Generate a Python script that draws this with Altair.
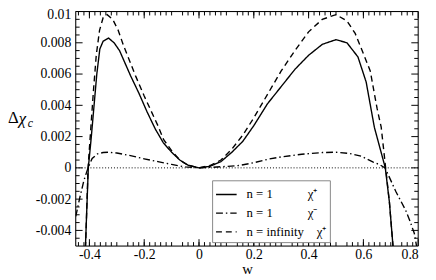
import altair as alt
import pandas as pd

# ---- data ----
w_solid = [-0.420, -0.414, -0.404, -0.393, -0.383, -0.373, -0.362, -0.350, -0.330, -0.310,
           -0.290, -0.270, -0.250, -0.220, -0.190, -0.160, -0.130, -0.100, -0.070, -0.040,
           0.000, 0.040, 0.080, 0.120, 0.160, 0.200, 0.250, 0.300, 0.350, 0.400,
           0.450, 0.500, 0.540, 0.580, 0.610, 0.640, 0.660, 0.680, 0.695, 0.708, 0.712]
v_solid = [-0.0068, -0.0048, 0.0, 0.0020, 0.0040, 0.0060, 0.0076, 0.0081, 0.0083, 0.0080,
           0.0075, 0.0067, 0.0059, 0.0048, 0.0036, 0.0025, 0.0016, 0.0010, 0.0005, 0.00017,
           0.0, 0.0001, 0.0004, 0.0010, 0.0017, 0.0027, 0.0041, 0.0052, 0.0063, 0.0072,
           0.0079, 0.0082, 0.0080, 0.0071, 0.0055, 0.0026, 0.0013, 0.0, -0.0022, -0.0050, -0.0062]

w_dash = [-0.420, -0.414, -0.405, -0.395, -0.385, -0.375, -0.363, -0.350, -0.335, -0.315,
          -0.295, -0.275, -0.250, -0.232, -0.200, -0.179, -0.150, -0.129, -0.100, -0.070,
          -0.040, 0.000, 0.040, 0.080, 0.120, 0.160, 0.200, 0.250, 0.300, 0.350,
          0.400, 0.450, 0.500, 0.540, 0.570, 0.600, 0.625, 0.650, 0.665, 0.680, 0.695, 0.708, 0.712]
v_dash = [-0.0070, -0.0050, 0.0, 0.0025, 0.0050, 0.0072, 0.0088, 0.0096, 0.0098, 0.0095,
          0.0088, 0.0078, 0.0067, 0.0059, 0.0046, 0.0038, 0.0027, 0.0018, 0.0011, 0.0005,
          0.00017, 0.0, 0.00015, 0.0005, 0.0012, 0.0021, 0.0032, 0.0047, 0.0062, 0.0075,
          0.0087, 0.0095, 0.0098, 0.0094, 0.0086, 0.0073, 0.0062, 0.0038, 0.0026, 0.0002, -0.0022, -0.0050, -0.0062]

w_dd = [-0.450, -0.446, -0.435, -0.420, -0.405, -0.390, -0.370, -0.350, -0.330, -0.300,
        -0.250, -0.200, -0.150, -0.100, -0.050, 0.000, 0.050, 0.100, 0.150, 0.200,
        0.254, 0.300, 0.375, 0.450, 0.500, 0.550, 0.593, 0.636, 0.660, 0.679,
        0.700, 0.718, 0.736, 0.754, 0.770, 0.786, 0.794, 0.800]
v_dd = [-0.0031, -0.0028, -0.0019, -0.0008, 0.0, 0.0006, 0.0009, 0.00098, 0.0010, 0.00095,
        0.00078, 0.00058, 0.00040, 0.00022, 0.00006, 0.0, 0.00004, 0.00009, 0.00016, 0.00033,
        0.00056, 0.00070, 0.00087, 0.00098, 0.0010, 0.00092, 0.00074, 0.00037, 0.0002, 0.0,
        -0.0008, -0.0015, -0.0021, -0.0027, -0.0034, -0.0042, -0.0050, -0.0055]

NB = "\u00a0"
labels = ["n = 1" + NB * 11 + "\u03c7\u207a",
          "n = 1" + NB * 11 + "\u03c7\u207b",
          "n = infinity" + NB * 4 + "\u03c7\u207a"]
dashes = [[1, 0], [7, 3, 1.5, 3], [6, 4]]

x_major = [-0.4, -0.2, 0.0, 0.2, 0.4, 0.6, 0.8]
y_major = [-0.004, -0.002, 0.0, 0.002, 0.004, 0.006, 0.008, 0.01]
x_minor = [round(-0.44 + 0.02 * i, 2) for i in range(62) if (i + 2) % 10 != 0]
y_minor = [round(-0.0045 + 0.0005 * i, 4) for i in range(29) if round((-0.0045 + 0.0005 * i) / 0.002, 4) % 1 != 0]

W, H = 349, 239
FONT = "Times New Roman"

rows = []
for lab, ws, vs in [(labels[0], w_solid, v_solid), (labels[1], w_dd, v_dd), (labels[2], w_dash, v_dash)]:
    for a, b in zip(ws, vs):
        rows.append({"w": a, "v": b, "series": lab})
df = pd.DataFrame(rows)

xs = alt.Scale(domain=[-0.45, 0.8], nice=False, zero=False)
ys = alt.Scale(domain=[-0.005, 0.01], nice=False, zero=False)

neg = "(datum.value < 0 ? '-' : '') + format(abs(datum.value), '')"
x_axis = alt.Axis(values=x_major, ticks=False, domain=False, grid=False, labelExpr=neg,
                  labelFont=FONT, labelFontSize=14, labelColor="black", labelPadding=2,
                  title="w", titleFont=FONT, titleFontSize=15, titleFontWeight="normal",
                  titleColor="black", titlePadding=0)
y_axis = alt.Axis(values=y_major, ticks=False, domain=False, grid=False, labelExpr=neg,
                  labelFont=FONT, labelFontSize=14, labelColor="black", labelPadding=5,
                  labelFlush=True, labelFlushOffset=4, title=None)

lines = alt.Chart(df).mark_line(color="black", strokeWidth=1.4, clip=True).encode(
    x=alt.X("w:Q", scale=xs, axis=x_axis),
    y=alt.Y("v:Q", scale=ys, axis=y_axis),
    strokeDash=alt.StrokeDash("series:N", scale=alt.Scale(domain=labels, range=dashes),
                              legend=alt.Legend(title=None, orient="none", legendX=139, legendY=172,
                                                symbolType="stroke", symbolSize=440,
                                                symbolStrokeColor="black", symbolStrokeWidth=1.4,
                                                labelFont=FONT, labelFontSize=13, labelColor="black",
                                                labelOffset=9, rowPadding=-1, padding=3,
                                                strokeColor="#888888", fillColor="white")),
    detail="series:N",
)

zero = alt.Chart(alt.Data(values=[{"z": 0}])).mark_rule(color="black", strokeWidth=1, strokeDash=[1, 2]).encode(
    y=alt.Y("z:Q", scale=ys, axis=y_axis))

def xticks(vals, L):
    d = alt.Data(values=[{"t": v} for v in vals])
    bot = alt.Chart(d).mark_rule(color="black", strokeWidth=1).encode(
        x=alt.X("t:Q", scale=xs, axis=x_axis), y=alt.value(H), y2=alt.value(H - L))
    top = alt.Chart(d).mark_rule(color="black", strokeWidth=1).encode(
        x=alt.X("t:Q", scale=xs, axis=x_axis), y=alt.value(0), y2=alt.value(L))
    return [bot, top]

def yticks(vals, L):
    d = alt.Data(values=[{"t": v} for v in vals])
    lft = alt.Chart(d).mark_rule(color="black", strokeWidth=1).encode(
        y=alt.Y("t:Q", scale=ys, axis=y_axis), x=alt.value(0), x2=alt.value(L))
    rgt = alt.Chart(d).mark_rule(color="black", strokeWidth=1).encode(
        y=alt.Y("t:Q", scale=ys, axis=y_axis), x=alt.value(W), x2=alt.value(W - L))
    return [lft, rgt]

one = alt.Data(values=[{"k": 1}])
frame = alt.Chart(one).mark_rect(fillOpacity=0, stroke="black", strokeWidth=1).encode(
    x=alt.value(0), x2=alt.value(W), y=alt.value(0), y2=alt.value(H))
t_delta = alt.Chart(one).mark_text(font=FONT, fontSize=17, align="left", baseline="middle", color="black").encode(
    x=alt.value(-69), y=alt.value(109), text=alt.value("\u0394"))
t_chi = alt.Chart(one).mark_text(font=FONT, fontSize=17, fontStyle="italic", align="left", baseline="middle", color="black").encode(
    x=alt.value(-58), y=alt.value(110), text=alt.value("\u03c7"))
t_c = alt.Chart(one).mark_text(font=FONT, fontSize=12, fontStyle="italic", align="left", baseline="middle", color="black").encode(
    x=alt.value(-49), y=alt.value(114), text=alt.value("c"))

layers = [lines, zero] + xticks(x_major, 7) + xticks(x_minor, 4) + yticks(y_major, 7) + yticks(y_minor, 4) + [frame, t_delta, t_chi, t_c]

chart = alt.layer(*layers).properties(
    width=W, height=H,
    autosize=alt.AutoSizeParams(type="none"),
    padding={"left": 69, "top": 1, "right": 10, "bottom": 31},
).configure_view(stroke="black", strokeWidth=1).configure(background="white").configure_axis(
    labelFont=FONT, titleFont=FONT).configure_legend(labelFont=FONT).configure_text(font=FONT)

chart.save("out.html", embed_options={"renderer": "svg", "actions": False})
